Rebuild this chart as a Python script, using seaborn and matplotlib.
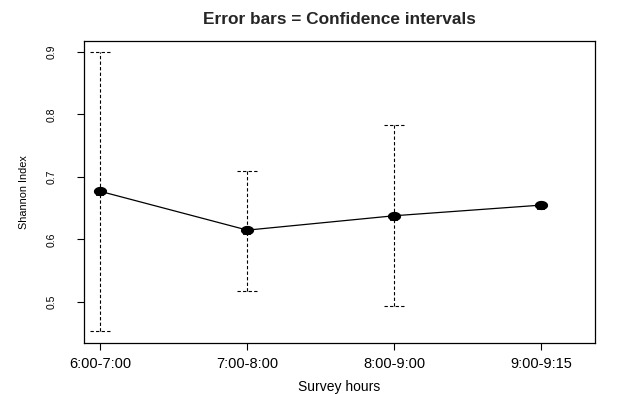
import numpy as np
import pandas as pd
import seaborn as sns
import matplotlib
matplotlib.use("Agg")
import matplotlib.pyplot as plt
import matplotlib.transforms as mtransforms
from matplotlib.path import Path

# ---- data ----
hours = ["6:00-7:00", "7:00-8:00", "8:00-9:00", "9:00-9:15"]
shannon = [0.677, 0.615, 0.638, 0.655]
ci_low = [0.453, 0.518, 0.494, 0.655]
ci_high = [0.900, 0.710, 0.783, 0.655]
yticks = [0.5, 0.6, 0.7, 0.8, 0.9]

sns.set_theme(style="white")
plt.rcParams["font.family"] = ["Liberation Sans", "DejaVu Sans"]

fig = plt.figure(figsize=(6.2, 3.94), dpi=100)
ax = fig.add_axes([84 / 620, 1 - 343 / 394, (595 - 84) / 620, (343 - 41) / 394])

pos = np.arange(1, len(hours) + 1)
df = pd.DataFrame({"pos": pos, "val": shannon, "lo": ci_low, "hi": ci_high})

# error bars (dashed, with dashed caps); zero-length intervals are skipped
eb = df[(df["hi"] - df["lo"]) > 0]
cap = 0.07
dash = (0, (3, 2))
ax.vlines(eb["pos"], eb["lo"], eb["hi"], colors="black", linestyles=dash, linewidth=0.8, zorder=2)
ax.hlines(eb["hi"], eb["pos"] - cap, eb["pos"] + cap, colors="black", linestyles=dash, linewidth=0.8, zorder=2)
ax.hlines(eb["lo"], eb["pos"] - cap, eb["pos"] + cap, colors="black", linestyles=dash, linewidth=0.8, zorder=2)

# connecting line
sns.lineplot(data=df, x="pos", y="val", color="black", linewidth=0.9, ax=ax, zorder=3)

# marker: flattened filled ellipse with a small bar below
t = np.linspace(0, 2 * np.pi, 40)
ell = Path(np.column_stack([1.5 * np.cos(t), np.sin(t)]))
ax.plot(df["pos"], df["val"], linestyle="none", marker=ell, markersize=8.5,
        color="black", zorder=4)
off = mtransforms.offset_copy(ax.transData, fig=fig, x=0, y=-4, units="dots")
ax.plot(df["pos"], df["val"], linestyle="none", marker="_", markersize=5.5,
        markeredgewidth=1.2, color="black", transform=off, zorder=4)

ax.set_xlim(0.888, 4.367)
ax.set_ylim(0.4344, 0.9176)
ax.set_xticks(pos)
ax.set_xticklabels(hours, fontsize=10.5)
ax.set_yticks(yticks)
ax.set_yticklabels([f"{v:.1f}" for v in yticks], rotation=90, va="center", fontsize=7.5)

for s in ax.spines.values():
    s.set_visible(True)
    s.set_color("black")
    s.set_linewidth(0.9)
ax.tick_params(axis="both", direction="out", length=5, width=0.8, color="black",
               labelcolor="black", bottom=True, left=True)
ax.tick_params(axis="x", pad=5)
ax.tick_params(axis="y", pad=14.5)

ax.set_xlabel("Survey hours", fontsize=10, labelpad=6.5, color="black")
ax.set_ylabel("Shannon Index", fontsize=7.8, labelpad=13, color="black")
ax.set_title("Error bars = Confidence intervals", fontsize=12.4, fontweight="bold", pad=12)

fig.savefig("out.png", dpi=100)
